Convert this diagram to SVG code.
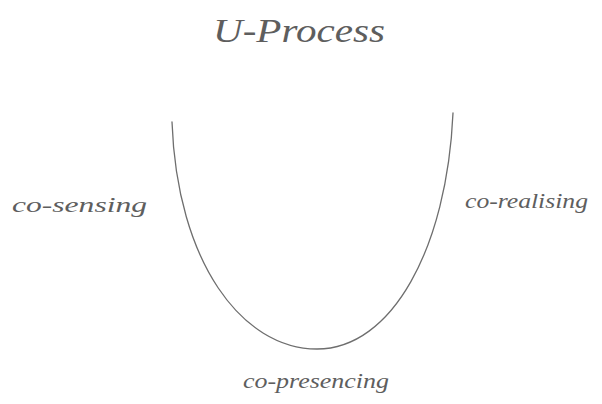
<svg xmlns="http://www.w3.org/2000/svg" width="602" height="404" viewBox="0 0 602 404">
<style>
.hand{font-family:"Liberation Serif","DejaVu Serif",serif;font-style:italic;fill:#5e5e5e;}
.curve{fill:none;stroke:#6e6e6e;stroke-width:1.3;stroke-linecap:round;}
</style>
<rect width="602" height="404" fill="#ffffff"/>
<g id="title">
<text class="hand" x="213" y="42" font-size="34" textLength="172" lengthAdjust="spacingAndGlyphs">U-Process</text>
</g>
<g id="u-curve">
<path class="curve" d="M172,122 C177,262 242,349 317,349 C392,349 447,248 453,113"/>
</g>
<g id="co-sensing">
<text class="hand" x="12" y="212" font-size="22" textLength="135" lengthAdjust="spacingAndGlyphs">co-sensing</text>
</g>
<g id="co-realising">
<text class="hand" x="465" y="208" font-size="21" textLength="123" lengthAdjust="spacingAndGlyphs">co-realising</text>
</g>
<g id="co-presencing">
<text class="hand" x="243" y="388" font-size="22" textLength="146" lengthAdjust="spacingAndGlyphs">co-presencing</text>
</g>
</svg>
